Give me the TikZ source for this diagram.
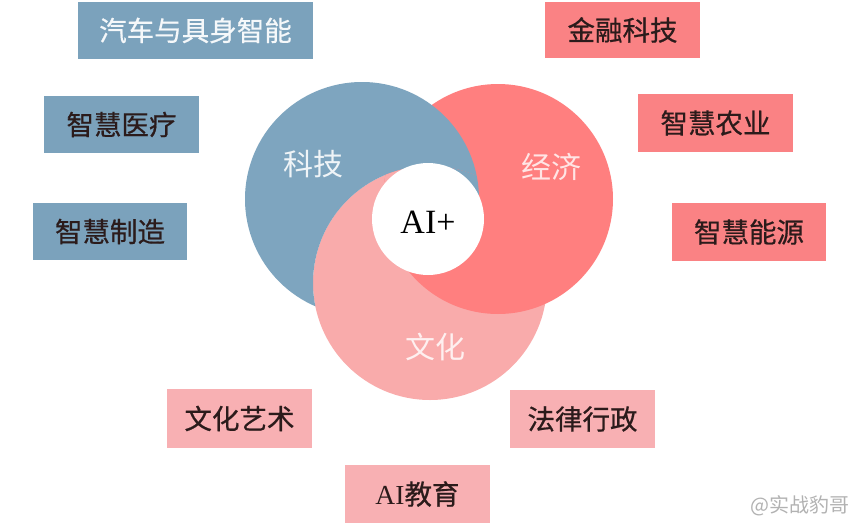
\documentclass[tikz,border=0pt]{standalone}
\usepackage{fontspec}
\newfontfamily\cjk{Noto Sans CJK SC}
\newfontfamily\cjkb{Noto Sans CJK SC}[FakeBold=0.6]
\newfontfamily\lat{Liberation Serif}
\definecolor{cblue}{HTML}{7EA5BF}
\definecolor{cred}{HTML}{FF7F7F}
\definecolor{cpink}{HTML}{F9ABAB}
\definecolor{bblue}{HTML}{7BA2BC}
\definecolor{bred}{HTML}{FA8284}
\definecolor{bpink}{HTML}{F8B0B3}
\definecolor{boxtext}{HTML}{2B1B1B}
\tikzset{
  basebox/.style={rectangle, inner sep=0pt, font=\cjkb\fontsize{27.5}{30}\selectfont, text=boxtext},
  bluebox/.style={basebox, fill=bblue},
  redbox/.style={basebox, fill=bred},
  pinkbox/.style={basebox, fill=bpink},
  circlabel/.style={font=\cjk\fontsize{30}{34}\selectfont, inner sep=0pt}
}
\begin{document}
\begin{tikzpicture}[x=1pt,y=-1pt]
\useasboundingbox (0,0) rectangle (860,530);
\fill[white] (0,0) rectangle (860,530);
% circles (cyclic overlap)
\fill[cpink] (430,283) circle (117);
\fill[cred] (498,199) circle (115);
\begin{scope}[even odd rule]
  \clip (0,0) rectangle (860,530) (430,283) circle (117);
  \fill[cblue] (362,199) circle (117);
\end{scope}
% triple-overlap tips
\begin{scope}
  \clip (430,283) circle (117);
  \clip (498,199) circle (115);
  \clip (362,199) circle (117);
  \fill[cpink] (0,0) rectangle (410,220);
  \fill[cblue] (410,0) rectangle (860,220);
\end{scope}
\fill[white] (428,219) circle (56);
% circle labels
\node[circlabel, text=white!88!cblue] (tech) at (313,164) {科技};
\node[circlabel, text=white!80!cred] (econ) at (551,167) {经济};
\node[circlabel, text=white!82!cpink] (cult) at (435,347) {文化};
\node[font=\lat\fontsize{34}{38}\selectfont, text=black, inner sep=0pt] (ai) at (428,222) {AI+};
% boxes
\node[bluebox, minimum width=235pt, minimum height=57pt, text=white!92!bblue] (car) at (195.5,30.5) {汽车与具身智能};
\node[bluebox, minimum width=155pt, minimum height=57pt] (med) at (121.5,124.5) {智慧医疗};
\node[bluebox, minimum width=154pt, minimum height=57pt] (mfg) at (110,231.5) {智慧制造};
\node[redbox, minimum width=155pt, minimum height=56pt] (fin) at (622.5,30) {金融科技};
\node[redbox, minimum width=155pt, minimum height=58pt] (agr) at (715.5,123) {智慧农业};
\node[redbox, minimum width=154pt, minimum height=58pt] (eng) at (749,232) {智慧能源};
\node[pinkbox, minimum width=145pt, minimum height=59pt] (art) at (239.5,418.5) {文化艺术};
\node[pinkbox, minimum width=145pt, minimum height=58pt] (law) at (582.5,419) {法律行政};
\node[pinkbox, minimum width=145pt, minimum height=58pt] (edu) at (417.5,494) {{\lat AI}教育};
% watermark
\node[font=\cjk\fontsize{20}{22}\selectfont, text=black!30, inner sep=0pt] (wm) at (800,506) {@实战豹哥};
\end{tikzpicture}
\end{document}
